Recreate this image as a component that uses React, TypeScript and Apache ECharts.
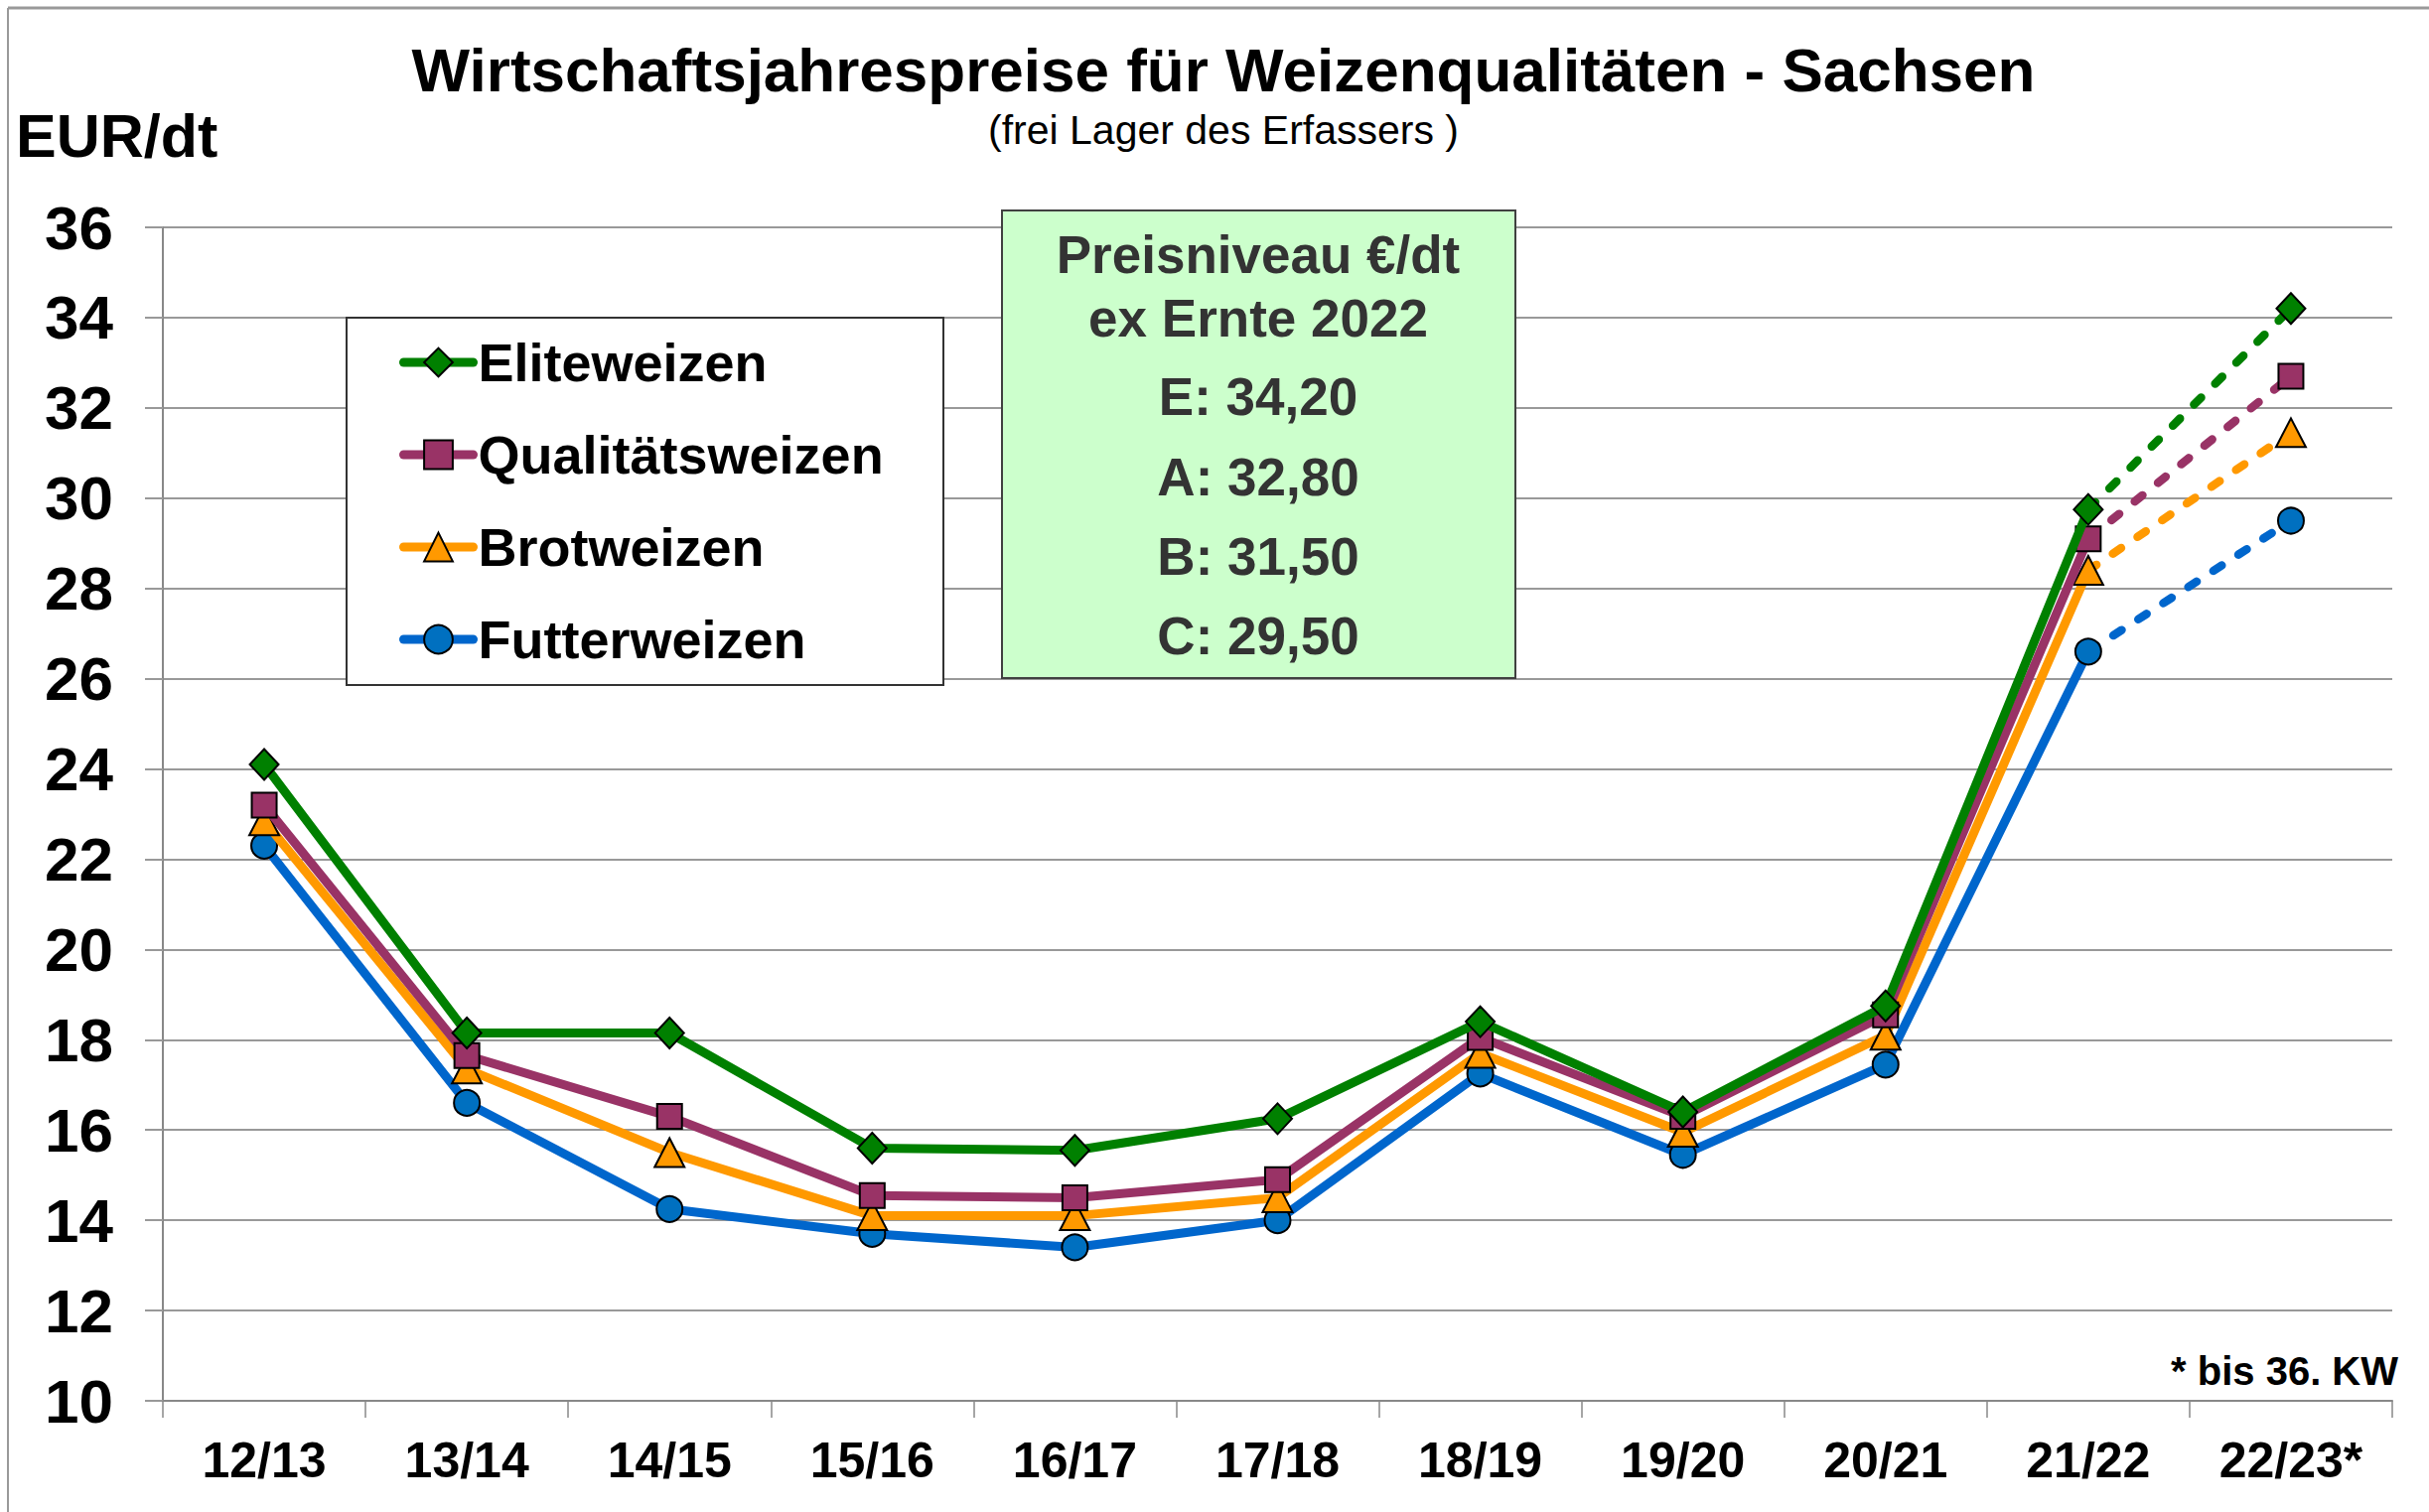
import React, { useEffect, useRef } from "react";
import * as echarts from "echarts";

const categories = ["12/13", "13/14", "14/15", "15/16", "16/17", "17/18", "18/19", "19/20", "20/21", "21/22", "22/23*"];
const seriesNames = ["Eliteweizen", "Qualitätsweizen", "Brotweizen", "Futterweizen"];
const elite = [24.1, 18.15, 18.15, 15.6, 15.55, 16.25, 18.4, 16.4, 18.75, 29.75, 34.2];
const qualitaet = [23.2, 17.65, 16.3, 14.55, 14.5, 14.9, 18.05, 16.3, 18.55, 29.1, 32.7];
const brot = [22.85, 17.35, 15.5, 14.1, 14.1, 14.5, 17.7, 15.95, 18.1, 28.4, 31.45];
const futter = [22.3, 16.6, 14.25, 13.7, 13.4, 14.0, 17.25, 15.45, 17.45, 26.6, 29.5];
const yTicks = [10, 12, 14, 16, 18, 20, 22, 24, 26, 28, 30, 32, 34, 36];
const infoLines = ["Preisniveau €/dt", "ex Ernte 2022", "E: 34,20", "A: 32,80", "B: 31,50", "C: 29,50"];

const lineColors = ["#008000", "#993366", "#FF9900", "#0066CC"];
const markerColors = ["#008000", "#993366", "#FF9900", "#0070C0"];
const symbols = ["diamond", "rect", "triangle", "circle"];
const symbolSizes: any[] = [[29, 31], [25, 25], [30, 29], [26, 26]];

const FONT = "'Liberation Sans', Arial, sans-serif";

export default function App() {
  const ref = useRef<HTMLDivElement>(null);
  useEffect(() => {
    document.body.style.margin = "0";
    const chart = echarts.init(ref.current!, null, { renderer: "svg" });
    const all = [elite, qualitaet, brot, futter];
    const n = categories.length;
    const series: any[] = [];
    all.forEach((vals, i) => {
      series.push({
        name: seriesNames[i],
        type: "line",
        data: vals.map((v, k) => (k < n - 1 ? v : null)),
        symbol: symbols[i],
        symbolSize: symbolSizes[i],
        showAllSymbol: true,
        lineStyle: { color: lineColors[i], width: 9, join: "round", cap: "round" },
        itemStyle: { color: markerColors[i], borderColor: "#000", borderWidth: 2 },
        color: lineColors[i],
        z: 10 - i,
      });
    });
    all.forEach((vals, i) => {
      series.push({
        name: seriesNames[i] + " Prognose",
        type: "line",
        data: vals.map((v, k) => {
          if (k < n - 2) return null;
          if (k === n - 2) return { value: v, symbol: "none" };
          return v;
        }),
        symbol: symbols[i],
        symbolSize: symbolSizes[i],
        showAllSymbol: true,
        lineStyle: { color: lineColors[i], width: 8.5, type: [10, 20], cap: "round" },
        itemStyle: { color: markerColors[i], borderColor: "#000", borderWidth: 2 },
        color: lineColors[i],
        z: 6 - i,
      });
    });

    const infoY = [256, 320, 399, 480, 560, 640];
    const graphic: any[] = [
      { type: "line", shape: { x1: 8, y1: 8, x2: 2446, y2: 8 }, style: { stroke: "#999", lineWidth: 3 } },
      { type: "line", shape: { x1: 8, y1: 8, x2: 8, y2: 1523 }, style: { stroke: "#999", lineWidth: 2 } },
      {
        type: "text", x: 1232, y: 70, z: 20,
        style: { text: "Wirtschaftsjahrespreise für Weizenqualitäten - Sachsen", fontSize: 62, fontWeight: "bold", fontFamily: FONT, fill: "#000", align: "center", verticalAlign: "middle" },
      },
      {
        type: "text", x: 1232, y: 131, z: 20,
        style: { text: "(frei Lager des Erfassers )", fontSize: 41, fontFamily: FONT, fill: "#000", align: "center", verticalAlign: "middle" },
      },
      {
        type: "text", x: 16, y: 137, z: 20,
        style: { text: "EUR/dt", fontSize: 61, fontWeight: "bold", fontFamily: FONT, fill: "#000", align: "left", verticalAlign: "middle" },
      },
      {
        type: "text", x: 2415, y: 1381, z: 20,
        style: { text: "* bis 36. KW", fontSize: 40, fontWeight: "bold", fontFamily: FONT, fill: "#000", align: "right", verticalAlign: "middle" },
      },
      {
        type: "rect", z: 3, shape: { x: 1009, y: 212, width: 517, height: 471 },
        style: { fill: "#CCFFCC", stroke: "#404040", lineWidth: 2 },
      },
      {
        type: "rect", z: 3, shape: { x: 349, y: 320, width: 601, height: 370 },
        style: { fill: "#fff", stroke: "#333", lineWidth: 2 },
      },
    ];
    infoLines.forEach((t, i) => {
      graphic.push({
        type: "text", x: 1267, y: infoY[i], z: 20,
        style: { text: t, fontSize: 53, fontWeight: "bold", fontFamily: FONT, fill: "#333", align: "center", verticalAlign: "middle" },
      });
    });

    chart.setOption({
      animation: false,
      backgroundColor: "#fff",
      grid: { left: 164, right: 37, top: 229, bottom: 112, containLabel: false },
      legend: {
        data: seriesNames,
        orient: "vertical",
        left: 397,
        top: 330,
        itemWidth: 70,
        itemHeight: 36,
        itemGap: 33,
        z: 10,
        selectedMode: false,
        lineStyle: { width: 9 },
        textStyle: { fontSize: 54, fontWeight: "bold", fontFamily: FONT, color: "#000", lineHeight: 60 },
      },
      xAxis: {
        type: "category",
        data: categories,
        boundaryGap: true,
        axisLine: { lineStyle: { color: "#888", width: 2 } },
        axisTick: { show: true, length: 17, lineStyle: { color: "#888", width: 1.5 } },
        axisLabel: { fontSize: 50, fontWeight: "bold", fontFamily: FONT, color: "#000", margin: 35, interval: 0 },
        splitLine: { show: false },
      },
      yAxis: {
        type: "value",
        min: yTicks[0],
        max: yTicks[yTicks.length - 1],
        interval: 2,
        axisLine: { show: true, lineStyle: { color: "#888", width: 2 } },
        axisTick: { show: true, length: 18, lineStyle: { color: "#999", width: 2 } },
        axisLabel: { fontSize: 62, fontWeight: "bold", fontFamily: FONT, color: "#000", margin: 50 },
        splitLine: { show: true, lineStyle: { color: "#999", width: 2 } },
      },
      graphic,
      series,
    });
    return () => chart.dispose();
  }, []);
  return <div ref={ref} style={{ position: "absolute", left: 0, top: 0, width: 2446, height: 1523 }} />;
}
